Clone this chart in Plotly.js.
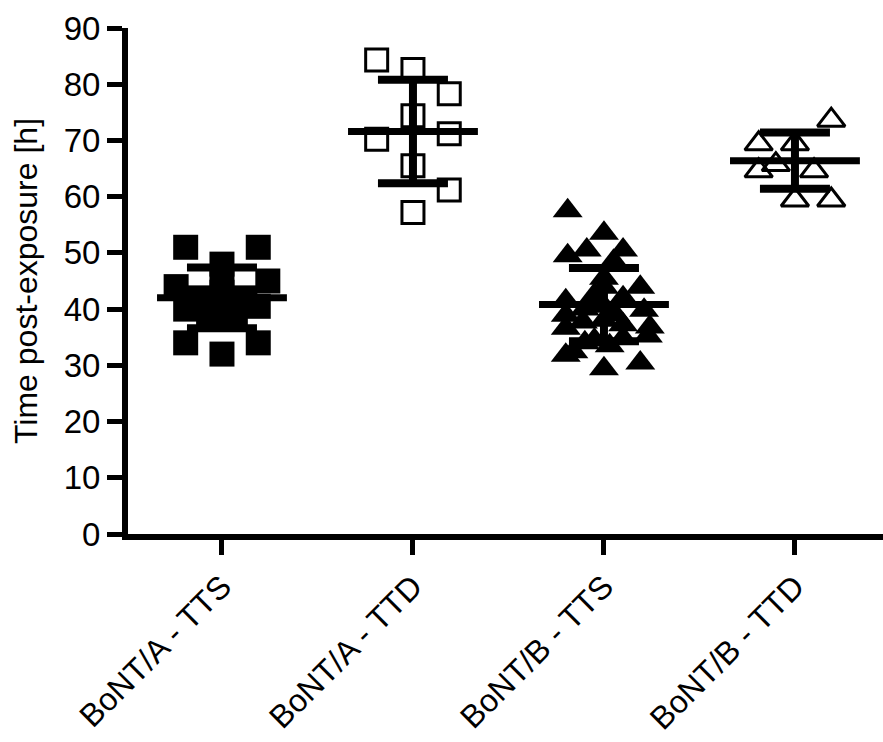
<!DOCTYPE html>
<html>
<head>
<meta charset="utf-8">
<script src="https://cdn.plot.ly/plotly-3.0.1.min.js"></script>
<style>html,body{margin:0;padding:0;background:#fff;}#chart{width:883px;height:742px;}</style>
</head>
<body>
<div id="chart"></div>
<script>
// Categories (tick labels)
const categories = ["BoNT/A - TTS", "BoNT/A - TTD", "BoNT/B - TTS", "BoNT/B - TTD"];

// Individual values (hours post-exposure)
const valuesA_TTS = [51, 51, 48, 45, 44, 45.5, 43, 42, 42, 40, 40.5, 40, 39, 39, 38.5, 34, 34, 32];
const jitterA_TTS = [-0.19, 0.19, 0, 0.24, -0.24, 0, 0, -0.12, 0.12, -0.19, 0.19, 0, -0.07, 0.07, 0, -0.19, 0.19, 0];

const valuesA_TTD = [84.3, 82.6, 78.3, 74.4, 70.2, 71.2, 65.5, 61.2, 57.2];
const jitterA_TTD = [-0.19, 0, 0.19, 0, -0.19, 0.19, 0, 0.19, 0];

const valuesB_TTS = [57.5, 53.5, 50.5, 50.5, 49.5, 48.5, 45.5, 43.9, 43.9, 41.5, 42, 40, 40.5, 39.8, 38.9, 37.7, 38, 36.8, 36.6, 37.2, 34.8, 34.5, 35.2, 33.5, 32.4, 31.8, 29.4, 30.4, 34, 42.5, 39];
const jitterB_TTS = [-0.19, 0, -0.09, 0.1, -0.19, 0.05, 0, 0, 0.19, -0.2, 0.1, -0.1, 0, 0.21, -0.2, -0.11, 0, 0.24, -0.2, 0.1, 0.1, -0.05, 0.23, 0.03, -0.16, -0.2, 0, 0.19, -0.1, -0.05, 0.06];

const valuesB_TTD = [73.6, 69.4, 69.4, 65.7, 64.6, 64.6, 59.4, 59.4];
const jitterB_TTD = [0.19, -0.19, 0, -0.1, -0.19, 0.1, 0, 0.19];

// Mean and SD per group
const means = [42.0, 71.6, 40.8, 66.4];
const sds = [5.4, 9.2, 6.5, 5.0];

const groups = [
  {v: valuesA_TTS, j: jitterA_TTS, symbol: "square", size: 25, lw: 0},
  {v: valuesA_TTD, j: jitterA_TTD, symbol: "square-open", size: 22, lw: 3},
  {v: valuesB_TTS, j: jitterB_TTS, symbol: "triangle-up", size: 26, lw: 0},
  {v: valuesB_TTD, j: jitterB_TTD, symbol: "triangle-up-open", size: 24, lw: 3}
];

const traces = [];
groups.forEach((g, i) => {
  traces.push({
    type: "scatter", mode: "markers",
    x: g.v.map((_, k) => i + g.j[k]), y: g.v,
    marker: {symbol: g.symbol, size: g.size, color: "#000", line: {color: "#000", width: g.lw}},
    hoverinfo: "y", showlegend: false
  });
});
means.forEach((m, i) => {
  traces.push({
    type: "scatter", mode: "lines",
    x: [i - 0.34, i + 0.34], y: [m, m],
    line: {color: "#000", width: 7},
    hoverinfo: "skip", showlegend: false
  });
  traces.push({
    type: "scatter", mode: "markers",
    x: [i], y: [m],
    marker: {size: 1, color: "rgba(0,0,0,0)"},
    error_y: {type: "data", array: [sds[i]], visible: true, color: "#000", thickness: 8, width: 35},
    hoverinfo: "skip", showlegend: false
  });
});

const font = "Liberation Sans, Arial, sans-serif";
const layout = {
  width: 883, height: 742,
  margin: {l: 128, r: 0, t: 28, b: 208},
  paper_bgcolor: "#fff", plot_bgcolor: "#fff",
  font: {family: font, color: "#000", size: 33},
  xaxis: {
    range: [-0.492, 3.461], tickmode: "array", tickvals: [0, 1, 2, 3], ticktext: categories,
    tickangle: -45, showgrid: false, zeroline: false, showline: true, linewidth: 6, linecolor: "#000",
    ticks: "outside", ticklen: 15, tickwidth: 5, tickcolor: "#000",
    tickfont: {family: font, size: 32, color: "#000"}
  },
  yaxis: {
    range: [0, 90], tickmode: "array", tickvals: [0,10,20,30,40,50,60,70,80,90],
    showgrid: false, zeroline: false, showline: true, linewidth: 6, linecolor: "#000",
    ticks: "outside", ticklen: 15, tickwidth: 5, tickcolor: "#000",
    tickfont: {family: font, size: 33, color: "#000"},
    title: {text: "Time post-exposure [h]", font: {family: font, size: 32, color: "#000"}, standoff: 18}
  }
};
Plotly.newPlot("chart", traces, layout, {displayModeBar: false, staticPlot: true});
</script>
</body>
</html>
